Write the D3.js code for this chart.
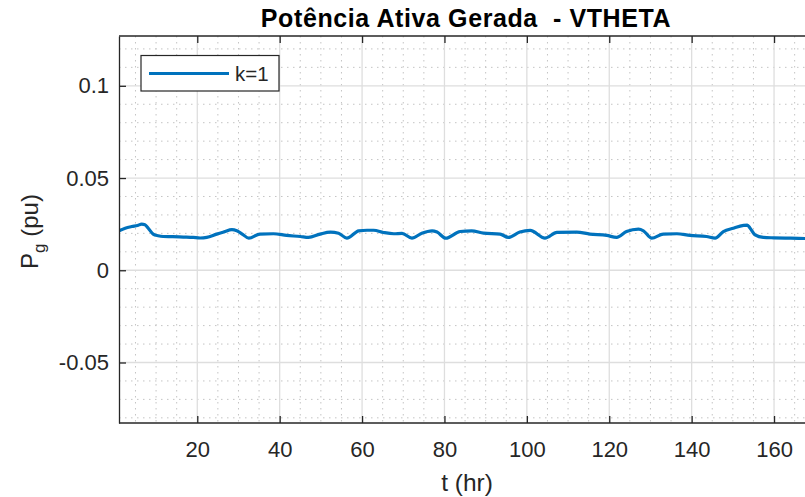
<!DOCTYPE html>
<html>
<head>
<meta charset="utf-8">
<script src="https://cdn.jsdelivr.net/npm/d3@7"></script>
<style>
  body { margin: 0; background: #fff; overflow: hidden; }
  svg text { font-family: "Liberation Sans", Arial, Helvetica, sans-serif; fill: #262626; }
</style>
</head>
<body>
<svg id="chart"></svg>
<script>
// data
const tHours = [1, 2.5, 4.1, 5.5, 6.5, 7.3, 8.1, 9.3, 10.5, 11.7, 14, 16.6, 19, 20.7, 22.3, 24.7, 26.5, 28.4, 29.6, 31, 32.5,
  35.2, 38.5, 41.7, 45, 47, 49.8, 52.3, 54.3, 56.3, 59.2, 61.2, 62.8, 65.2, 67.7, 69.7, 72.1, 74.5, 77, 78.2, 80.3,
  83.8, 86.6, 89.5, 93.5, 95.5, 98.3, 100.8, 104.4, 107.3, 112.1, 115.3, 119.4, 121.8, 124.2, 127.1, 128.3, 130.3,
  133.1, 136.4, 139.6, 143.6, 145.7, 147.7, 150.1, 152.6, 153.5, 154.2, 155.4, 157.4, 160, 164, 168];
const pg = [0.0214, 0.0228, 0.0237, 0.0243, 0.025, 0.0247, 0.0228, 0.0196, 0.0187, 0.0183, 0.0182, 0.018, 0.0178, 0.0175, 0.0178, 0.0196, 0.0208, 0.022, 0.0214, 0.0195, 0.0174,
  0.0196, 0.0198, 0.0189, 0.0183, 0.0178, 0.0196, 0.0207, 0.0201, 0.0174, 0.0214, 0.0217, 0.0217, 0.0205, 0.0198, 0.02, 0.0174, 0.0201, 0.0214, 0.0207, 0.0174,
  0.021, 0.0214, 0.0201, 0.0196, 0.0178, 0.0207, 0.0216, 0.0174, 0.0205, 0.0207, 0.0196, 0.0189, 0.0178, 0.021, 0.0223, 0.0214, 0.0174,
  0.0196, 0.0198, 0.0189, 0.0183, 0.0174, 0.021, 0.0228, 0.0243, 0.0245, 0.0228, 0.0192, 0.0178, 0.0176, 0.0174, 0.0172];
const xTicks = [20, 40, 60, 80, 100, 120, 140, 160];
const yTicks = [-0.05, 0, 0.05, 0.1];
const yTickLabels = ["-0.05", "0", "0.05", "0.1"];
const seriesName = "k=1";

const w = 805, h = 497;
const pLeft = 119, pRight = 807, pTop = 36, pBottom = 423;

let svg = d3.select("#chart").attr("width", w).attr("height", h);

let xScale = d3.scaleLinear().domain([1, 168]).range([pLeft, pRight]);
let yScale = d3.scaleLinear().domain([-0.0828, 0.127]).range([pBottom, pTop]);

let xMinor = d3.range(5, 168, 5).filter(d => d % 20 != 0);
let yMinor = d3.range(-0.08, 0.13, 0.01).map(d => +d.toFixed(2)).filter(d => Math.abs(Math.round(d * 100)) % 5 != 0);

svg.append("clipPath").attr("id", "plotclip").append("rect")
  .attr("x", pLeft).attr("y", pTop).attr("width", pRight - pLeft).attr("height", pBottom - pTop);

let grid = svg.append("g").attr("clip-path", "url(#plotclip)");

// minor grid, dotted
grid.selectAll(".xminor").data(xMinor).enter().append("line")
  .attr("x1", d => xScale(d)).attr("x2", d => xScale(d))
  .attr("y1", pTop).attr("y2", pBottom)
  .attr("stroke", "#c4c4c4").attr("stroke-width", 1).attr("stroke-dasharray", "1.5,4.5");
grid.selectAll(".yminor").data(yMinor).enter().append("line")
  .attr("x1", pLeft).attr("x2", pRight)
  .attr("y1", d => yScale(d)).attr("y2", d => yScale(d))
  .attr("stroke", "#c4c4c4").attr("stroke-width", 1).attr("stroke-dasharray", "1.5,4.5");

// major grid
grid.selectAll(".xmajor").data(xTicks).enter().append("line")
  .attr("x1", d => xScale(d)).attr("x2", d => xScale(d))
  .attr("y1", pTop).attr("y2", pBottom)
  .attr("stroke", "#dedede").attr("stroke-width", 1.3);
grid.selectAll(".ymajor").data(yTicks).enter().append("line")
  .attr("x1", pLeft).attr("x2", pRight)
  .attr("y1", d => yScale(d)).attr("y2", d => yScale(d))
  .attr("stroke", "#dedede").attr("stroke-width", 1.3);

// the line
let line = d3.line()
  .x((d, i) => xScale(tHours[i]))
  .y(d => yScale(d))
  .curve(d3.curveMonotoneX);

svg.append("path").datum(pg)
  .attr("clip-path", "url(#plotclip)")
  .attr("d", line)
  .attr("fill", "none")
  .attr("stroke", "#0072BD")
  .attr("stroke-width", 3.2)
  .attr("stroke-linejoin", "round");

// axes, ticks inside like matlab
let xAxis = d3.axisBottom(xScale).tickValues(xTicks).tickSize(-7).tickPadding(18).tickSizeOuter(0);
let yAxis = d3.axisLeft(yScale).tickValues(yTicks).tickSize(-7).tickPadding(10).tickSizeOuter(0)
  .tickFormat((d, i) => yTickLabels[i]);
let xTop = d3.axisTop(xScale).tickValues(xTicks).tickSize(-7).tickFormat("").tickSizeOuter(0);

let gx = svg.append("g").attr("transform", "translate(0," + pBottom + ")").call(xAxis);
let gy = svg.append("g").attr("transform", "translate(" + pLeft + ",0)").call(yAxis);
let gt = svg.append("g").attr("transform", "translate(0," + pTop + ")").call(xTop);

[gx, gy, gt].forEach(g => {
  g.select(".domain").attr("stroke", "#262626").attr("stroke-width", 1.3);
  g.selectAll(".tick line").attr("stroke", "#262626").attr("stroke-width", 1.3);
  g.selectAll(".tick text").attr("font-size", 22).attr("fill", "#262626")
    .style("font-family", "'Liberation Sans', Arial, Helvetica, sans-serif");
});
gx.select(".domain").attr("d", "M" + pLeft + ",0H" + w);
gt.select(".domain").attr("d", "M" + pLeft + ",0H" + w);

// title and labels
svg.append("text")
  .attr("x", (pLeft + pRight) / 2 + 3).attr("y", 26.5)
  .attr("text-anchor", "middle")
  .attr("font-size", 25).attr("font-weight", "bold")
  .attr("letter-spacing", 0.6)
  .style("fill", "#000")
  .style("white-space", "pre")
  .text("Potência Ativa Gerada  - VTHETA");

svg.append("text")
  .attr("x", (pLeft + pRight) / 2 + 4).attr("y", 491)
  .attr("text-anchor", "middle")
  .attr("font-size", 24.5)
  .text("t (hr)");

let ylab = svg.append("text")
  .attr("transform", "translate(38," + ((pTop + pBottom) / 2 + 2) + ") rotate(-90)")
  .attr("text-anchor", "middle")
  .attr("font-size", 24);
ylab.append("tspan").text("P");
ylab.append("tspan").attr("font-size", 17).attr("dy", 7).text("g");
ylab.append("tspan").attr("dy", -7).text(" (pu)");

// legend
let lg = svg.append("g");
lg.append("rect")
  .attr("x", 141).attr("y", 55.5).attr("width", 138).attr("height", 35.5)
  .attr("fill", "#fff").attr("stroke", "#262626").attr("stroke-width", 1.2);
lg.append("line")
  .attr("x1", 149).attr("x2", 229).attr("y1", 73.5).attr("y2", 73.5)
  .attr("stroke", "#0072BD").attr("stroke-width", 3.2);
lg.append("text")
  .attr("x", 235).attr("y", 81)
  .attr("font-size", 20.5)
  .text(seriesName);
</script>
</body>
</html>
